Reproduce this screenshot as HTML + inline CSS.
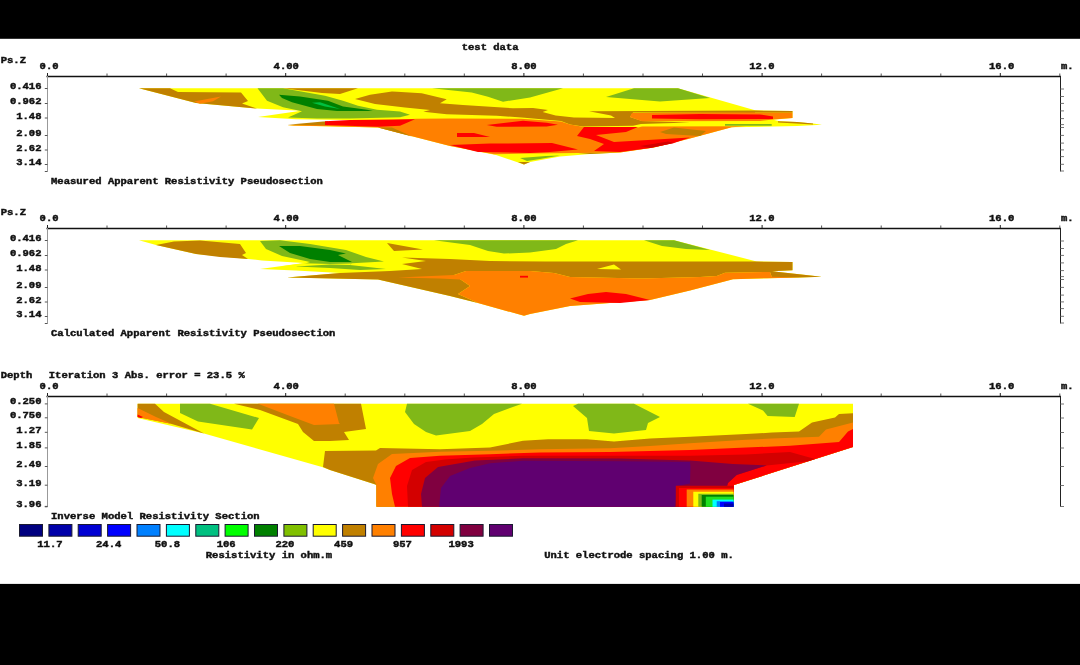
<!DOCTYPE html>
<html><head><meta charset="utf-8"><title>test data</title>
<style>
html,body{margin:0;padding:0;background:#000;}
body{width:1080px;height:665px;overflow:hidden;}
svg{display:block;}
svg text{font-family:"Liberation Mono","DejaVu Sans Mono",monospace;font-weight:bold;font-size:9.7px;fill:#111;stroke:#111;stroke-width:0.45px;}
</style></head><body>
<svg width="1080" height="665" viewBox="0 0 1080 665">
<rect x="0" y="0" width="1080" height="665" fill="#000"/>
<rect x="0" y="38.8" width="1080" height="545.1" fill="#fff"/>
<text x="461.7" y="49.5" text-anchor="start" xml:space="preserve" textLength="56.9" lengthAdjust="spacingAndGlyphs">test data</text>
<polygon points="139.0,88.2 678.0,88.2 755.0,110.3 792.5,111.0 792.5,118.0 773.0,119.8 780.0,121.3 797.0,122.0 813.0,123.6 822.0,124.8 797.0,126.0 731.7,127.3 690.0,138.4 654.0,147.6 620.0,152.4 590.0,154.0 560.0,156.4 530.0,162.0 524.0,164.5 496.0,155.0 450.0,146.0 378.0,127.6 287.0,125.4 360.0,120.2 296.0,119.2 258.0,117.0 301.0,110.8 257.0,108.6 196.0,103.0" fill="#ffff00"/>
<polygon points="139.0,88.2 170.0,88.2 178.0,92.0 241.0,92.4 248.0,101.0 242.0,103.6 257.0,108.6 196.0,103.0" fill="#c08000"/>
<polygon points="194.0,101.6 221.0,96.6 213.0,101.2 200.0,103.8" fill="#ff8000"/>
<polygon points="257.5,88.2 283.0,88.2 325.0,95.7 343.0,100.7 358.0,105.7 377.0,109.8 400.0,111.5 410.0,114.8 400.0,117.3 350.0,118.4 317.0,118.4 288.0,117.5 302.0,111.3 283.0,107.3 267.0,100.7" fill="#80b818"/>
<polygon points="279.0,94.8 300.0,96.5 328.0,100.7 343.0,106.5 367.0,109.8 373.0,110.9 337.0,110.9 317.0,109.0 292.0,102.3 282.0,98.0" fill="#008000"/>
<polygon points="312.0,102.7 320.0,102.3 340.0,109.0 325.0,106.5" fill="#00c040"/>
<polygon points="283.0,88.2 358.0,88.2 340.0,94.0 322.0,93.0" fill="#c08000"/>
<polygon points="355.0,99.0 370.0,94.8 392.0,91.5 397.0,91.7 421.7,93.3 446.7,99.2 440.0,103.3 463.0,105.0 513.0,108.3 533.0,108.0 548.0,110.0 542.6,112.0 555.6,115.4 574.0,117.6 615.0,118.0 611.0,115.4 589.0,111.3 755.0,110.6 755.0,113.0 633.0,112.6 630.0,117.0 642.0,121.0 690.0,122.4 641.0,124.0 633.0,125.8 583.0,126.5 570.0,124.6 561.0,121.0 521.7,117.5 496.7,115.8 446.7,114.2 423.3,111.7 430.0,110.0 405.0,107.5 375.0,104.0" fill="#c08000"/>
<polygon points="432.0,88.2 563.0,88.2 530.0,97.5 503.0,101.7 488.0,96.7 471.7,92.5" fill="#80b818"/>
<polygon points="606.0,97.0 634.0,88.2 678.0,88.2 710.0,98.0 660.0,101.6" fill="#80b818"/>
<polygon points="400.0,119.8 416.0,118.8 450.0,118.5 521.0,118.8 561.0,121.5 570.0,124.6 584.0,127.0 638.0,127.5 642.0,126.4 746.0,126.3 731.7,127.3 690.0,138.4 654.0,147.6 620.0,152.4 578.0,153.0 530.0,153.5 494.0,154.2 450.0,146.0 378.0,127.6 330.0,126.3 287.0,125.4 330.0,122.3" fill="#ff8000"/>
<polygon points="378.0,127.6 392.0,127.6 412.0,136.5" fill="#c08000"/>
<polygon points="287.5,124.8 323.0,121.5 328.0,121.2 328.0,125.2" fill="#c08000"/>
<polygon points="325.0,121.3 350.0,119.9 415.0,119.3 400.0,125.7 378.0,126.8 325.0,125.0" fill="#ff0000"/>
<polygon points="457.0,133.0 474.0,133.0 490.0,137.0 457.0,137.0" fill="#ff0000"/>
<polygon points="486.7,125.0 523.0,120.8 546.7,122.8 558.0,124.8 546.7,126.4 496.7,126.8" fill="#ff0000"/>
<polygon points="450.0,145.0 490.0,143.6 552.0,143.0 578.0,149.6 550.0,152.0 530.0,153.0 478.0,152.0" fill="#ff0000"/>
<polygon points="584.0,127.0 638.0,127.0 626.0,132.0 596.0,135.0 614.0,142.0 690.0,137.6 674.0,143.0 650.0,148.0 620.0,152.0 594.0,151.0 604.0,144.0 590.0,139.0 577.0,136.0" fill="#ff0000"/>
<polygon points="640.0,146.0 668.0,141.5 674.0,143.0 650.0,148.0" fill="#d30000"/>
<polygon points="660.0,132.0 674.0,127.6 706.0,131.0 700.0,136.0 666.0,134.0" fill="#c08000"/>
<polygon points="632.0,113.0 792.5,112.5 792.5,118.0 773.0,119.5 760.0,121.0 642.0,121.2 630.0,117.0" fill="#ff8000"/>
<polygon points="755.0,110.6 792.5,111.0 792.5,112.6 755.0,112.6" fill="#c08000"/>
<polygon points="652.0,115.0 700.0,114.0 760.0,114.5 773.0,116.5 773.0,119.0 700.0,119.3 652.0,118.5" fill="#ff0000"/>
<polygon points="778.0,121.3 797.0,122.0 813.0,123.6 813.0,124.6 796.0,123.5 778.0,122.6" fill="#c08000"/>
<polygon points="725.0,124.0 771.7,124.0 771.7,125.7 725.0,125.7" fill="#80b818"/>
<polygon points="520.0,158.0 546.0,156.0 560.0,155.5 540.0,159.0 527.0,161.0" fill="#80b818"/>
<polygon points="518.0,162.0 530.0,162.0 524.0,164.5" fill="#c08000"/>
<polygon points="578.0,153.0 620.0,152.4 590.0,154.0" fill="#c08000"/>
<line x1="46.5" y1="76.5" x2="1061.0" y2="76.5" stroke="#111" stroke-width="1.3"/>
<line x1="47.5" y1="73.0" x2="47.5" y2="76.0" stroke="#222" stroke-width="1"/>
<line x1="107.0" y1="73.5" x2="107.0" y2="76.0" stroke="#555" stroke-width="1"/>
<line x1="166.6" y1="73.5" x2="166.6" y2="76.0" stroke="#555" stroke-width="1"/>
<line x1="226.1" y1="73.5" x2="226.1" y2="76.0" stroke="#555" stroke-width="1"/>
<line x1="285.7" y1="73.0" x2="285.7" y2="76.0" stroke="#222" stroke-width="1"/>
<line x1="345.2" y1="73.5" x2="345.2" y2="76.0" stroke="#555" stroke-width="1"/>
<line x1="404.8" y1="73.5" x2="404.8" y2="76.0" stroke="#555" stroke-width="1"/>
<line x1="464.3" y1="73.5" x2="464.3" y2="76.0" stroke="#555" stroke-width="1"/>
<line x1="523.9" y1="73.0" x2="523.9" y2="76.0" stroke="#222" stroke-width="1"/>
<line x1="583.4" y1="73.5" x2="583.4" y2="76.0" stroke="#555" stroke-width="1"/>
<line x1="643.0" y1="73.5" x2="643.0" y2="76.0" stroke="#555" stroke-width="1"/>
<line x1="702.5" y1="73.5" x2="702.5" y2="76.0" stroke="#555" stroke-width="1"/>
<line x1="762.1" y1="73.0" x2="762.1" y2="76.0" stroke="#222" stroke-width="1"/>
<line x1="821.6" y1="73.5" x2="821.6" y2="76.0" stroke="#555" stroke-width="1"/>
<line x1="881.2" y1="73.5" x2="881.2" y2="76.0" stroke="#555" stroke-width="1"/>
<line x1="940.8" y1="73.5" x2="940.8" y2="76.0" stroke="#555" stroke-width="1"/>
<line x1="1000.3" y1="73.0" x2="1000.3" y2="76.0" stroke="#222" stroke-width="1"/>
<line x1="1059.8" y1="73.5" x2="1059.8" y2="76.0" stroke="#555" stroke-width="1"/>
<text x="39.6" y="68.6" text-anchor="start" xml:space="preserve" textLength="19.0" lengthAdjust="spacingAndGlyphs">0.0</text>
<text x="273.6" y="68.6" text-anchor="start" xml:space="preserve" textLength="25.3" lengthAdjust="spacingAndGlyphs">4.00</text>
<text x="511.3" y="68.6" text-anchor="start" xml:space="preserve" textLength="25.3" lengthAdjust="spacingAndGlyphs">8.00</text>
<text x="749.3" y="68.6" text-anchor="start" xml:space="preserve" textLength="25.3" lengthAdjust="spacingAndGlyphs">12.0</text>
<text x="989.0" y="68.6" text-anchor="start" xml:space="preserve" textLength="25.3" lengthAdjust="spacingAndGlyphs">16.0</text>
<text x="1061.0" y="69.0" text-anchor="start" xml:space="preserve" textLength="12.6" lengthAdjust="spacingAndGlyphs">m.</text>
<text x="0.7" y="62.7" text-anchor="start" xml:space="preserve" textLength="25.3" lengthAdjust="spacingAndGlyphs">Ps.Z</text>
<line x1="47.5" y1="76.0" x2="47.5" y2="171.5" stroke="#999" stroke-width="1"/>
<text x="41.5" y="89.0" text-anchor="end" xml:space="preserve" textLength="31.6" lengthAdjust="spacingAndGlyphs">0.416</text>
<line x1="44.8" y1="88.5" x2="47.5" y2="88.5" stroke="#555" stroke-width="1"/>
<text x="41.5" y="104.0" text-anchor="end" xml:space="preserve" textLength="31.6" lengthAdjust="spacingAndGlyphs">0.962</text>
<line x1="44.8" y1="103.5" x2="47.5" y2="103.5" stroke="#555" stroke-width="1"/>
<text x="41.5" y="118.5" text-anchor="end" xml:space="preserve" textLength="25.3" lengthAdjust="spacingAndGlyphs">1.48</text>
<line x1="44.8" y1="118.0" x2="47.5" y2="118.0" stroke="#555" stroke-width="1"/>
<text x="41.5" y="136.0" text-anchor="end" xml:space="preserve" textLength="25.3" lengthAdjust="spacingAndGlyphs">2.09</text>
<line x1="44.8" y1="135.5" x2="47.5" y2="135.5" stroke="#555" stroke-width="1"/>
<text x="41.5" y="150.5" text-anchor="end" xml:space="preserve" textLength="25.3" lengthAdjust="spacingAndGlyphs">2.62</text>
<line x1="44.8" y1="150.0" x2="47.5" y2="150.0" stroke="#555" stroke-width="1"/>
<text x="41.5" y="165.0" text-anchor="end" xml:space="preserve" textLength="25.3" lengthAdjust="spacingAndGlyphs">3.14</text>
<line x1="44.8" y1="164.5" x2="47.5" y2="164.5" stroke="#555" stroke-width="1"/>
<line x1="44.8" y1="171.5" x2="47.5" y2="171.5" stroke="#555" stroke-width="1"/>
<line x1="1060.5" y1="76.0" x2="1060.5" y2="171.5" stroke="#222" stroke-width="1"/>
<line x1="1060.5" y1="89.0" x2="1064.0" y2="89.0" stroke="#777" stroke-width="1"/>
<line x1="1060.5" y1="96.5" x2="1064.0" y2="96.5" stroke="#777" stroke-width="1"/>
<line x1="1060.5" y1="103.4" x2="1064.0" y2="103.4" stroke="#777" stroke-width="1"/>
<line x1="1060.5" y1="110.9" x2="1064.0" y2="110.9" stroke="#777" stroke-width="1"/>
<line x1="1060.5" y1="118.6" x2="1064.0" y2="118.6" stroke="#777" stroke-width="1"/>
<line x1="1060.5" y1="124.6" x2="1064.0" y2="124.6" stroke="#777" stroke-width="1"/>
<line x1="1060.5" y1="127.5" x2="1064.0" y2="127.5" stroke="#777" stroke-width="1"/>
<line x1="1060.5" y1="135.4" x2="1064.0" y2="135.4" stroke="#777" stroke-width="1"/>
<line x1="1060.5" y1="143.1" x2="1064.0" y2="143.1" stroke="#777" stroke-width="1"/>
<line x1="1060.5" y1="149.9" x2="1064.0" y2="149.9" stroke="#777" stroke-width="1"/>
<line x1="1060.5" y1="156.6" x2="1064.0" y2="156.6" stroke="#777" stroke-width="1"/>
<line x1="1060.5" y1="164.3" x2="1064.0" y2="164.3" stroke="#777" stroke-width="1"/>
<line x1="1060.5" y1="171.0" x2="1064.0" y2="171.0" stroke="#777" stroke-width="1"/>
<text x="51.0" y="184.2" text-anchor="start" xml:space="preserve" textLength="271.8" lengthAdjust="spacingAndGlyphs">Measured Apparent Resistivity Pseudosection</text>
<polygon points="139.0,240.2 674.0,240.2 756.7,261.5 792.5,262.0 792.5,270.2 772.0,271.3 821.7,276.8 800.0,277.5 733.0,279.3 690.0,290.4 650.0,300.0 570.0,306.0 530.0,314.0 524.0,315.8 478.0,303.0 450.0,296.0 378.0,279.6 287.0,277.4 340.0,273.0 296.0,270.6 260.0,269.0 304.0,263.0 262.0,260.4 248.0,259.0 196.0,254.0 156.0,245.0" fill="#ffff00"/>
<polygon points="156.0,245.0 174.0,241.6 200.0,240.4 240.0,244.0 246.0,253.0 242.0,255.0 248.0,259.0 220.0,257.0 196.0,254.0" fill="#c08000"/>
<polygon points="260.0,241.0 280.0,240.3 310.0,244.0 346.0,250.0 366.0,257.0 384.0,261.6 352.0,263.3 350.0,265.0 386.0,269.0 360.0,270.0 330.0,268.0 296.0,266.5 310.0,262.0 282.0,256.0 266.0,249.0" fill="#80b818"/>
<polygon points="304.0,263.2 330.0,264.0 352.0,263.6 350.0,265.0 330.0,264.6 296.0,266.5 280.0,266.5" fill="#ffff00"/>
<polygon points="279.0,246.0 300.0,246.0 330.0,250.0 346.0,253.5 338.0,255.0 352.0,262.0 330.0,262.0 310.0,259.0 290.0,253.0" fill="#008000"/>
<polygon points="387.0,243.0 423.0,249.6 394.0,251.0" fill="#c08000"/>
<polygon points="434.0,240.2 578.0,240.2 566.0,244.0 556.0,249.0 530.0,252.5 504.0,253.6 488.0,251.0 470.0,245.0" fill="#80b818"/>
<polygon points="644.0,240.2 674.0,240.2 710.0,250.0 686.0,249.0 662.0,246.0" fill="#80b818"/>
<polygon points="402.0,257.6 450.0,259.0 490.0,261.0 546.0,261.6 756.7,261.6 792.5,262.0 792.5,270.2 772.0,271.3 821.7,276.8 800.0,277.5 766.7,277.7 771.7,276.8 770.0,272.0 725.0,272.7 716.7,276.0 700.0,277.0 642.0,278.4 570.0,277.0 554.0,273.0 530.0,271.0 466.0,271.0 454.0,275.0 470.0,286.0 458.0,294.0 478.0,303.0 450.0,296.0 378.0,279.6 287.0,277.4 340.0,273.0 390.0,271.0 422.0,269.0 402.0,264.0 426.0,261.0" fill="#c08000"/>
<polygon points="597.0,269.0 614.0,264.6 621.0,269.6" fill="#ffff00"/>
<polygon points="466.0,271.0 530.0,271.0 554.0,273.0 570.0,277.0 642.0,278.4 700.0,277.0 716.7,276.0 725.0,272.7 770.0,272.0 771.7,276.8 800.0,277.5 766.7,278.2 733.0,279.3 690.0,290.4 650.0,300.0 570.0,306.0 530.0,314.0 524.0,315.8 478.0,303.0 458.0,294.0 470.0,286.0 454.0,275.0" fill="#ff8000"/>
<polygon points="398.0,277.5 454.0,275.0 470.0,280.0 440.0,278.6" fill="#ff8000"/>
<polygon points="570.0,298.4 588.0,294.0 606.0,292.0 626.0,294.0 650.0,300.0 620.0,303.0 580.0,302.0" fill="#ff0000"/>
<polygon points="520.0,275.8 528.0,275.8 528.0,277.6 520.0,277.6" fill="#ff0000"/>
<line x1="46.5" y1="228.5" x2="1061.0" y2="228.5" stroke="#111" stroke-width="1.3"/>
<line x1="47.5" y1="225.0" x2="47.5" y2="228.0" stroke="#222" stroke-width="1"/>
<line x1="107.0" y1="225.5" x2="107.0" y2="228.0" stroke="#555" stroke-width="1"/>
<line x1="166.6" y1="225.5" x2="166.6" y2="228.0" stroke="#555" stroke-width="1"/>
<line x1="226.1" y1="225.5" x2="226.1" y2="228.0" stroke="#555" stroke-width="1"/>
<line x1="285.7" y1="225.0" x2="285.7" y2="228.0" stroke="#222" stroke-width="1"/>
<line x1="345.2" y1="225.5" x2="345.2" y2="228.0" stroke="#555" stroke-width="1"/>
<line x1="404.8" y1="225.5" x2="404.8" y2="228.0" stroke="#555" stroke-width="1"/>
<line x1="464.3" y1="225.5" x2="464.3" y2="228.0" stroke="#555" stroke-width="1"/>
<line x1="523.9" y1="225.0" x2="523.9" y2="228.0" stroke="#222" stroke-width="1"/>
<line x1="583.4" y1="225.5" x2="583.4" y2="228.0" stroke="#555" stroke-width="1"/>
<line x1="643.0" y1="225.5" x2="643.0" y2="228.0" stroke="#555" stroke-width="1"/>
<line x1="702.5" y1="225.5" x2="702.5" y2="228.0" stroke="#555" stroke-width="1"/>
<line x1="762.1" y1="225.0" x2="762.1" y2="228.0" stroke="#222" stroke-width="1"/>
<line x1="821.6" y1="225.5" x2="821.6" y2="228.0" stroke="#555" stroke-width="1"/>
<line x1="881.2" y1="225.5" x2="881.2" y2="228.0" stroke="#555" stroke-width="1"/>
<line x1="940.8" y1="225.5" x2="940.8" y2="228.0" stroke="#555" stroke-width="1"/>
<line x1="1000.3" y1="225.0" x2="1000.3" y2="228.0" stroke="#222" stroke-width="1"/>
<line x1="1059.8" y1="225.5" x2="1059.8" y2="228.0" stroke="#555" stroke-width="1"/>
<text x="39.6" y="220.6" text-anchor="start" xml:space="preserve" textLength="19.0" lengthAdjust="spacingAndGlyphs">0.0</text>
<text x="273.6" y="220.6" text-anchor="start" xml:space="preserve" textLength="25.3" lengthAdjust="spacingAndGlyphs">4.00</text>
<text x="511.3" y="220.6" text-anchor="start" xml:space="preserve" textLength="25.3" lengthAdjust="spacingAndGlyphs">8.00</text>
<text x="749.3" y="220.6" text-anchor="start" xml:space="preserve" textLength="25.3" lengthAdjust="spacingAndGlyphs">12.0</text>
<text x="989.0" y="220.6" text-anchor="start" xml:space="preserve" textLength="25.3" lengthAdjust="spacingAndGlyphs">16.0</text>
<text x="1061.0" y="221.0" text-anchor="start" xml:space="preserve" textLength="12.6" lengthAdjust="spacingAndGlyphs">m.</text>
<text x="0.7" y="214.7" text-anchor="start" xml:space="preserve" textLength="25.3" lengthAdjust="spacingAndGlyphs">Ps.Z</text>
<line x1="47.5" y1="228.0" x2="47.5" y2="323.5" stroke="#999" stroke-width="1"/>
<text x="41.5" y="241.0" text-anchor="end" xml:space="preserve" textLength="31.6" lengthAdjust="spacingAndGlyphs">0.416</text>
<line x1="44.8" y1="240.5" x2="47.5" y2="240.5" stroke="#555" stroke-width="1"/>
<text x="41.5" y="256.0" text-anchor="end" xml:space="preserve" textLength="31.6" lengthAdjust="spacingAndGlyphs">0.962</text>
<line x1="44.8" y1="255.5" x2="47.5" y2="255.5" stroke="#555" stroke-width="1"/>
<text x="41.5" y="270.5" text-anchor="end" xml:space="preserve" textLength="25.3" lengthAdjust="spacingAndGlyphs">1.48</text>
<line x1="44.8" y1="270.0" x2="47.5" y2="270.0" stroke="#555" stroke-width="1"/>
<text x="41.5" y="288.0" text-anchor="end" xml:space="preserve" textLength="25.3" lengthAdjust="spacingAndGlyphs">2.09</text>
<line x1="44.8" y1="287.5" x2="47.5" y2="287.5" stroke="#555" stroke-width="1"/>
<text x="41.5" y="302.5" text-anchor="end" xml:space="preserve" textLength="25.3" lengthAdjust="spacingAndGlyphs">2.62</text>
<line x1="44.8" y1="302.0" x2="47.5" y2="302.0" stroke="#555" stroke-width="1"/>
<text x="41.5" y="317.0" text-anchor="end" xml:space="preserve" textLength="25.3" lengthAdjust="spacingAndGlyphs">3.14</text>
<line x1="44.8" y1="316.5" x2="47.5" y2="316.5" stroke="#555" stroke-width="1"/>
<line x1="44.8" y1="323.5" x2="47.5" y2="323.5" stroke="#555" stroke-width="1"/>
<line x1="1060.5" y1="228.0" x2="1060.5" y2="323.5" stroke="#222" stroke-width="1"/>
<line x1="1060.5" y1="241.0" x2="1064.0" y2="241.0" stroke="#777" stroke-width="1"/>
<line x1="1060.5" y1="248.5" x2="1064.0" y2="248.5" stroke="#777" stroke-width="1"/>
<line x1="1060.5" y1="255.4" x2="1064.0" y2="255.4" stroke="#777" stroke-width="1"/>
<line x1="1060.5" y1="262.9" x2="1064.0" y2="262.9" stroke="#777" stroke-width="1"/>
<line x1="1060.5" y1="270.6" x2="1064.0" y2="270.6" stroke="#777" stroke-width="1"/>
<line x1="1060.5" y1="276.6" x2="1064.0" y2="276.6" stroke="#777" stroke-width="1"/>
<line x1="1060.5" y1="279.5" x2="1064.0" y2="279.5" stroke="#777" stroke-width="1"/>
<line x1="1060.5" y1="287.4" x2="1064.0" y2="287.4" stroke="#777" stroke-width="1"/>
<line x1="1060.5" y1="295.1" x2="1064.0" y2="295.1" stroke="#777" stroke-width="1"/>
<line x1="1060.5" y1="301.9" x2="1064.0" y2="301.9" stroke="#777" stroke-width="1"/>
<line x1="1060.5" y1="308.6" x2="1064.0" y2="308.6" stroke="#777" stroke-width="1"/>
<line x1="1060.5" y1="316.3" x2="1064.0" y2="316.3" stroke="#777" stroke-width="1"/>
<line x1="1060.5" y1="323.0" x2="1064.0" y2="323.0" stroke="#777" stroke-width="1"/>
<text x="51.0" y="335.8" text-anchor="start" xml:space="preserve" textLength="284.4" lengthAdjust="spacingAndGlyphs">Calculated Apparent Resistivity Pseudosection</text>
<polygon points="137.6,403.8 853.0,403.8 853.0,447.0 734.0,485.0 734.0,506.8 376.4,506.8 376.4,485.0 374.0,484.0 330.0,470.0 322.0,467.0 204.0,433.6 137.6,418.0" fill="#ffff00"/>
<polygon points="137.6,403.8 155.0,403.8 164.0,412.0 204.0,433.6 170.0,423.4 137.6,417.0" fill="#c08000"/>
<polygon points="137.6,408.0 156.0,417.0 172.0,424.0 137.6,417.0" fill="#ff8000"/>
<polygon points="137.6,414.6 143.0,417.0 141.0,418.0 137.6,417.0" fill="#ff0000"/>
<polygon points="180.0,403.8 210.0,403.8 259.0,418.0 252.0,429.6 198.0,421.6 180.0,413.0" fill="#80b818"/>
<polygon points="234.0,403.8 361.0,403.8 366.0,429.0 344.0,432.0 349.0,440.0 330.0,441.0 314.0,441.0 303.0,432.0 298.0,424.0 260.0,410.0" fill="#c08000"/>
<polygon points="258.0,403.8 334.0,403.8 339.0,423.0 340.0,424.0 314.0,425.0 290.0,416.0" fill="#ff8000"/>
<polygon points="407.0,403.8 522.0,403.8 510.0,408.0 494.0,414.0 482.0,424.0 470.0,431.0 436.0,435.6 426.0,432.0 414.0,424.0 405.0,412.0" fill="#80b818"/>
<polygon points="573.0,406.0 578.0,403.8 634.0,403.8 660.0,417.0 648.0,423.0 646.0,430.0 614.0,433.6 589.0,431.0 587.0,418.0" fill="#80b818"/>
<polygon points="748.0,403.8 799.0,403.8 794.7,417.0 767.6,416.0 763.0,410.6" fill="#80b818"/>
<polygon points="325.0,451.0 376.0,450.4 380.0,448.0 440.0,449.2 490.0,447.5 523.0,440.8 548.0,439.2 587.0,439.2 614.0,441.6 650.0,438.5 690.0,436.7 746.0,434.0 772.0,432.6 799.0,431.4 812.0,422.4 835.0,417.5 839.0,414.0 853.0,413.3 853.0,447.0 734.0,485.0 734.0,506.8 376.4,506.8 376.4,485.0 374.0,484.0 330.0,470.0 323.0,467.0" fill="#c08000"/>
<polygon points="392.0,454.0 440.0,451.7 490.0,450.8 540.0,449.3 610.0,448.3 650.0,446.0 690.0,443.3 746.0,439.8 772.0,438.6 819.0,436.8 826.0,429.6 853.0,422.4 853.0,447.0 734.0,485.0 734.0,506.8 376.4,506.8 376.4,485.0 373.0,478.0 378.0,464.0" fill="#ff8000"/>
<polygon points="410.0,458.0 440.0,455.8 490.0,454.2 540.0,452.6 610.0,452.0 690.0,450.0 746.0,447.6 790.0,445.8 839.0,442.0 848.0,431.4 853.0,429.0 853.0,447.0 734.0,485.0 734.0,506.8 395.0,506.8 392.0,494.0 390.0,478.0 396.0,466.0" fill="#ff0000"/>
<polygon points="426.0,462.0 445.0,459.5 473.0,457.5 523.0,455.8 610.0,455.8 690.0,455.8 746.0,454.5 790.0,452.0 815.0,459.0 808.0,461.3 766.7,465.4 750.0,470.8 736.7,475.0 728.0,483.0 726.7,487.5 700.0,506.8 408.0,506.8 407.0,486.0 412.0,470.0" fill="#d30000"/>
<polygon points="438.0,467.0 458.0,463.5 475.0,460.5 523.0,458.3 620.0,458.5 690.0,460.5 733.0,464.0 766.7,465.4 750.0,470.8 736.7,475.0 728.0,483.0 726.7,487.5 700.0,506.8 422.0,506.8 421.0,494.0 425.0,478.0" fill="#800040"/>
<polygon points="470.0,468.0 490.0,463.3 523.0,460.8 620.0,461.2 690.0,462.0 690.5,466.7 690.0,483.5 677.0,486.0 675.0,506.8 439.0,506.8 441.0,488.0 450.0,476.0" fill="#600070"/>
<polygon points="675.8,485.8 733.6,485.8 733.6,506.8 675.8,506.8" fill="#d30000"/>
<polygon points="679.0,488.0 733.6,488.0 733.6,506.8 679.0,506.8" fill="#ff0000"/>
<polygon points="686.7,489.6 733.6,489.6 733.6,506.8 686.7,506.8" fill="#ff8000"/>
<polygon points="693.3,491.8 733.6,491.8 733.6,506.8 693.3,506.8" fill="#ffff00"/>
<polygon points="698.3,493.7 733.6,493.7 733.6,506.8 698.3,506.8" fill="#80b818"/>
<polygon points="701.7,495.0 733.6,495.0 733.6,506.8 701.7,506.8" fill="#008000"/>
<polygon points="705.8,496.7 733.6,496.7 733.6,506.8 705.8,506.8" fill="#20e020"/>
<polygon points="712.5,499.6 733.6,499.6 733.6,506.8 712.5,506.8" fill="#00ffff"/>
<polygon points="716.7,501.2 733.6,501.2 733.6,506.8 716.7,506.8" fill="#0080ff"/>
<polygon points="720.0,502.0 733.6,502.0 733.6,506.8 720.0,506.8" fill="#0000ff"/>
<polygon points="724.0,503.5 733.6,503.5 733.6,506.8 724.0,506.8" fill="#0000aa"/>
<text x="48.8" y="378.2" text-anchor="start" xml:space="preserve" textLength="195.9" lengthAdjust="spacingAndGlyphs">Iteration 3 Abs. error = 23.5 %</text>
<line x1="46.5" y1="396.5" x2="1061.0" y2="396.5" stroke="#111" stroke-width="1.3"/>
<line x1="47.5" y1="393.0" x2="47.5" y2="396.0" stroke="#222" stroke-width="1"/>
<line x1="107.0" y1="393.5" x2="107.0" y2="396.0" stroke="#555" stroke-width="1"/>
<line x1="166.6" y1="393.5" x2="166.6" y2="396.0" stroke="#555" stroke-width="1"/>
<line x1="226.1" y1="393.5" x2="226.1" y2="396.0" stroke="#555" stroke-width="1"/>
<line x1="285.7" y1="393.0" x2="285.7" y2="396.0" stroke="#222" stroke-width="1"/>
<line x1="345.2" y1="393.5" x2="345.2" y2="396.0" stroke="#555" stroke-width="1"/>
<line x1="404.8" y1="393.5" x2="404.8" y2="396.0" stroke="#555" stroke-width="1"/>
<line x1="464.3" y1="393.5" x2="464.3" y2="396.0" stroke="#555" stroke-width="1"/>
<line x1="523.9" y1="393.0" x2="523.9" y2="396.0" stroke="#222" stroke-width="1"/>
<line x1="583.4" y1="393.5" x2="583.4" y2="396.0" stroke="#555" stroke-width="1"/>
<line x1="643.0" y1="393.5" x2="643.0" y2="396.0" stroke="#555" stroke-width="1"/>
<line x1="702.5" y1="393.5" x2="702.5" y2="396.0" stroke="#555" stroke-width="1"/>
<line x1="762.1" y1="393.0" x2="762.1" y2="396.0" stroke="#222" stroke-width="1"/>
<line x1="821.6" y1="393.5" x2="821.6" y2="396.0" stroke="#555" stroke-width="1"/>
<line x1="881.2" y1="393.5" x2="881.2" y2="396.0" stroke="#555" stroke-width="1"/>
<line x1="940.8" y1="393.5" x2="940.8" y2="396.0" stroke="#555" stroke-width="1"/>
<line x1="1000.3" y1="393.0" x2="1000.3" y2="396.0" stroke="#222" stroke-width="1"/>
<line x1="1059.8" y1="393.5" x2="1059.8" y2="396.0" stroke="#555" stroke-width="1"/>
<text x="39.6" y="388.6" text-anchor="start" xml:space="preserve" textLength="19.0" lengthAdjust="spacingAndGlyphs">0.0</text>
<text x="273.6" y="388.6" text-anchor="start" xml:space="preserve" textLength="25.3" lengthAdjust="spacingAndGlyphs">4.00</text>
<text x="511.3" y="388.6" text-anchor="start" xml:space="preserve" textLength="25.3" lengthAdjust="spacingAndGlyphs">8.00</text>
<text x="749.3" y="388.6" text-anchor="start" xml:space="preserve" textLength="25.3" lengthAdjust="spacingAndGlyphs">12.0</text>
<text x="989.0" y="388.6" text-anchor="start" xml:space="preserve" textLength="25.3" lengthAdjust="spacingAndGlyphs">16.0</text>
<text x="1061.0" y="389.0" text-anchor="start" xml:space="preserve" textLength="12.6" lengthAdjust="spacingAndGlyphs">m.</text>
<text x="0.7" y="378.2" text-anchor="start" xml:space="preserve" textLength="31.6" lengthAdjust="spacingAndGlyphs">Depth</text>
<line x1="47.5" y1="396.0" x2="47.5" y2="506.8" stroke="#999" stroke-width="1"/>
<text x="41.5" y="404.4" text-anchor="end" xml:space="preserve" textLength="31.6" lengthAdjust="spacingAndGlyphs">0.250</text>
<line x1="44.8" y1="403.9" x2="47.5" y2="403.9" stroke="#555" stroke-width="1"/>
<text x="41.5" y="418.3" text-anchor="end" xml:space="preserve" textLength="31.6" lengthAdjust="spacingAndGlyphs">0.750</text>
<line x1="44.8" y1="417.8" x2="47.5" y2="417.8" stroke="#555" stroke-width="1"/>
<text x="41.5" y="432.8" text-anchor="end" xml:space="preserve" textLength="25.3" lengthAdjust="spacingAndGlyphs">1.27</text>
<line x1="44.8" y1="432.3" x2="47.5" y2="432.3" stroke="#555" stroke-width="1"/>
<text x="41.5" y="448.4" text-anchor="end" xml:space="preserve" textLength="25.3" lengthAdjust="spacingAndGlyphs">1.85</text>
<line x1="44.8" y1="447.9" x2="47.5" y2="447.9" stroke="#555" stroke-width="1"/>
<text x="41.5" y="467.0" text-anchor="end" xml:space="preserve" textLength="25.3" lengthAdjust="spacingAndGlyphs">2.49</text>
<line x1="44.8" y1="466.5" x2="47.5" y2="466.5" stroke="#555" stroke-width="1"/>
<text x="41.5" y="485.7" text-anchor="end" xml:space="preserve" textLength="25.3" lengthAdjust="spacingAndGlyphs">3.19</text>
<line x1="44.8" y1="485.2" x2="47.5" y2="485.2" stroke="#555" stroke-width="1"/>
<text x="41.5" y="506.9" text-anchor="end" xml:space="preserve" textLength="25.3" lengthAdjust="spacingAndGlyphs">3.96</text>
<line x1="44.8" y1="506.4" x2="47.5" y2="506.4" stroke="#555" stroke-width="1"/>
<line x1="44.8" y1="506.8" x2="47.5" y2="506.8" stroke="#555" stroke-width="1"/>
<line x1="1060.5" y1="396.0" x2="1060.5" y2="506.8" stroke="#222" stroke-width="1"/>
<line x1="1060.5" y1="404.0" x2="1064.0" y2="404.0" stroke="#777" stroke-width="1"/>
<line x1="1060.5" y1="418.0" x2="1064.0" y2="418.0" stroke="#777" stroke-width="1"/>
<line x1="1060.5" y1="432.5" x2="1064.0" y2="432.5" stroke="#777" stroke-width="1"/>
<line x1="1060.5" y1="448.0" x2="1064.0" y2="448.0" stroke="#777" stroke-width="1"/>
<line x1="1060.5" y1="466.5" x2="1064.0" y2="466.5" stroke="#777" stroke-width="1"/>
<line x1="1060.5" y1="485.5" x2="1064.0" y2="485.5" stroke="#777" stroke-width="1"/>
<line x1="1060.5" y1="506.5" x2="1064.0" y2="506.5" stroke="#777" stroke-width="1"/>
<text x="51.0" y="519.2" text-anchor="start" xml:space="preserve" textLength="208.6" lengthAdjust="spacingAndGlyphs">Inverse Model Resistivity Section</text>
<rect x="19.5" y="524.5" width="23" height="11.7" fill="#000080" stroke="#1a1a30" stroke-width="1"/>
<rect x="48.9" y="524.5" width="23" height="11.7" fill="#0000aa" stroke="#1a1a30" stroke-width="1"/>
<rect x="78.2" y="524.5" width="23" height="11.7" fill="#0000d3" stroke="#1a1a30" stroke-width="1"/>
<rect x="107.6" y="524.5" width="23" height="11.7" fill="#0000ff" stroke="#1a1a30" stroke-width="1"/>
<rect x="137.0" y="524.5" width="23" height="11.7" fill="#0080ff" stroke="#1a1a30" stroke-width="1"/>
<rect x="166.4" y="524.5" width="23" height="11.7" fill="#00ffff" stroke="#1a1a30" stroke-width="1"/>
<rect x="195.8" y="524.5" width="23" height="11.7" fill="#00c080" stroke="#1a1a30" stroke-width="1"/>
<rect x="225.1" y="524.5" width="23" height="11.7" fill="#00ff00" stroke="#1a1a30" stroke-width="1"/>
<rect x="254.5" y="524.5" width="23" height="11.7" fill="#008000" stroke="#1a1a30" stroke-width="1"/>
<rect x="283.9" y="524.5" width="23" height="11.7" fill="#80c000" stroke="#1a1a30" stroke-width="1"/>
<rect x="313.2" y="524.5" width="23" height="11.7" fill="#ffff00" stroke="#1a1a30" stroke-width="1"/>
<rect x="342.6" y="524.5" width="23" height="11.7" fill="#c08000" stroke="#1a1a30" stroke-width="1"/>
<rect x="372.0" y="524.5" width="23" height="11.7" fill="#ff8000" stroke="#1a1a30" stroke-width="1"/>
<rect x="401.4" y="524.5" width="23" height="11.7" fill="#ff0000" stroke="#1a1a30" stroke-width="1"/>
<rect x="430.8" y="524.5" width="23" height="11.7" fill="#d30000" stroke="#1a1a30" stroke-width="1"/>
<rect x="460.1" y="524.5" width="23" height="11.7" fill="#800040" stroke="#1a1a30" stroke-width="1"/>
<rect x="489.5" y="524.5" width="23" height="11.7" fill="#600070" stroke="#1a1a30" stroke-width="1"/>
<text x="49.9" y="546.6" text-anchor="middle" xml:space="preserve" textLength="25.3" lengthAdjust="spacingAndGlyphs">11.7</text>
<text x="108.7" y="546.6" text-anchor="middle" xml:space="preserve" textLength="25.3" lengthAdjust="spacingAndGlyphs">24.4</text>
<text x="167.4" y="546.6" text-anchor="middle" xml:space="preserve" textLength="25.3" lengthAdjust="spacingAndGlyphs">50.8</text>
<text x="226.2" y="546.6" text-anchor="middle" xml:space="preserve" textLength="19.0" lengthAdjust="spacingAndGlyphs">106</text>
<text x="284.9" y="546.6" text-anchor="middle" xml:space="preserve" textLength="19.0" lengthAdjust="spacingAndGlyphs">220</text>
<text x="343.6" y="546.6" text-anchor="middle" xml:space="preserve" textLength="19.0" lengthAdjust="spacingAndGlyphs">459</text>
<text x="402.4" y="546.6" text-anchor="middle" xml:space="preserve" textLength="19.0" lengthAdjust="spacingAndGlyphs">957</text>
<text x="461.1" y="546.6" text-anchor="middle" xml:space="preserve" textLength="25.3" lengthAdjust="spacingAndGlyphs">1993</text>
<text x="205.8" y="558.0" text-anchor="start" xml:space="preserve" textLength="126.4" lengthAdjust="spacingAndGlyphs">Resistivity in ohm.m</text>
<text x="544.2" y="558.0" text-anchor="start" xml:space="preserve" textLength="189.6" lengthAdjust="spacingAndGlyphs">Unit electrode spacing 1.00 m.</text>
</svg>
</body></html>
